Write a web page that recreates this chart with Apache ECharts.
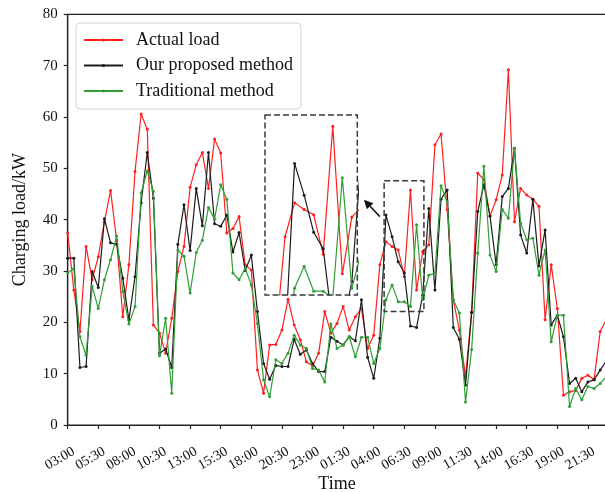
<!DOCTYPE html>
<html>
<head>
<meta charset="utf-8">
<script src="https://cdn.jsdelivr.net/npm/echarts@6/dist/echarts.min.js"></script>
<style>
  html, body { margin: 0; padding: 0; background: #fff; }
  #chart { width: 605px; height: 492px; }
</style>
</head>
<body>
<div id="chart"></div>
<script>
// Half-hourly time stamps along the horizontal axis
const times = [
  '03:00','03:30','04:00','04:30','05:00','05:30','06:00','06:30','07:00','07:30',
  '08:00','08:30','09:00','09:30','10:00','10:30','11:00','11:30','12:00','12:30',
  '13:00','13:30','14:00','14:30','15:00','15:30','16:00','16:30','17:00','17:30',
  '18:00','18:30','19:00','19:30','20:00','20:30','21:00','21:30','22:00','22:30',
  '23:00','23:30','00:00','00:30','01:00','01:30','02:00','02:30','03:00','03:30',
  '04:00','04:30','05:00','05:30','06:00','06:30','07:00','07:30','08:00','08:30',
  '09:00','09:30','10:00','10:30','11:00','11:30','12:00','12:30','13:00','13:30',
  '14:00','14:30','15:00','15:30','16:00','16:30','17:00','17:30','18:00','18:30',
  '19:00','19:30','20:00','20:30','21:00','21:30','22:00','22:30','23:00'
];

// Charging load (kW)
const actualLoad = [
  37.4, 26.3, 18.2, 34.8, 28.3, 32.8, 39.6, 45.7, 36.0, 21.1,
  31.2, 49.4, 60.6, 57.6, 19.5, 17.9, 14.0, 20.8, 29.9, 34.8,
  46.3, 50.7, 53.1, 46.1, 55.7, 53.0, 37.4, 38.3, 40.6, 31.2,
  30.2, 10.7, 6.2, 15.6, 15.7, 18.5, 24.5, 19.5, 16.6, 12.3,
  11.5, 14.0, 22.1, 17.9, 19.8, 23.1, 18.5, 21.1, 22.7, 14.9,
  17.5, 31.2, 35.7, 34.8, 34.1, 28.9, 45.8, 26.3, 33.8, 35.1,
  54.6, 56.7, 42.0, 24.4, 18.5, 9.4, 22.0, 49.1, 47.8, 40.7,
  43.9, 48.7, 69.2, 39.6, 46.1, 44.8, 44.0, 42.6, 20.5, 31.2,
  22.7, 5.8, 6.5, 6.7, 9.1, 9.7, 8.8, 18.2, 20.5
];
const proposedForecast = [
  32.5, 32.5, 11.2, 11.4, 29.9, 26.8, 40.2, 35.5, 35.2, 28.6,
  20.5, 28.9, 43.3, 53.1, 44.2, 14.0, 14.8, 11.2, 35.2, 42.9,
  34.0, 46.1, 38.8, 53.1, 39.2, 38.7, 40.9, 33.7, 37.5, 30.1,
  33.1, 22.1, 12.0, 8.9, 11.6, 11.4, 11.4, 16.7, 13.8, 14.6,
  12.0, 10.4, 10.4, 17.1, 16.3, 15.6, 17.2, 16.4, 24.4, 13.2,
  9.1, 16.9, 40.9, 36.7, 31.8, 29.6, 19.3, 19.0, 25.3, 42.2,
  26.3, 44.0, 45.8, 19.0, 16.7, 7.8, 21.9, 41.6, 46.8, 40.7,
  31.2, 44.5, 46.1, 53.9, 37.0, 33.5, 44.0, 31.0, 38.0, 19.5,
  21.4, 17.2, 8.1, 9.1, 6.5, 8.4, 8.8, 10.7, 12.5
];
const traditionalForecast = [
  29.6, 30.5, 17.2, 13.6, 27.0, 22.7, 28.3, 32.2, 36.8, 26.0,
  19.7, 23.1, 45.2, 49.5, 45.5, 13.5, 20.8, 6.2, 34.1, 32.9,
  25.7, 33.6, 36.0, 42.4, 40.1, 46.8, 44.0, 29.6, 28.3, 30.5,
  27.3, 19.8, 8.8, 5.5, 12.7, 12.0, 14.0, 17.5, 15.6, 14.9,
  11.0, 10.7, 8.4, 19.7, 14.9, 15.6, 17.2, 13.3, 17.1, 17.1,
  12.0, 14.9, 24.4, 27.3, 24.0, 24.0, 23.1, 39.0, 24.4, 29.2,
  29.6, 46.6, 43.5, 24.4, 21.8, 4.5, 14.7, 33.5, 50.4, 33.1,
  29.9, 42.0, 40.3, 53.9, 39.3, 36.1, 36.4, 29.2, 34.1, 16.2,
  21.4, 21.4, 3.6, 7.1, 4.9, 7.5, 7.1, 8.1, 9.4
];

const seriesNames = ['Actual load', 'Our proposed method', 'Traditional method'];
const seriesColors = ['#ff1f1f', '#1c1c1c', '#2f9e35'];
const seriesData = [actualLoad, proposedForecast, traditionalForecast];

// Window that the magnified view covers (sample index, kW)
const zoomWindow = { x: [51.7, 58.2], y: [22.1, 47.6] };
// Axis limits of the magnified view
const insetX = [48.9, 58.57];
const insetY = [23.5, 47.3];
// Pointer from the window to the magnified view (sample index, kW)
const pointer = { from: [51.0, 40.6], to: [48.4, 43.9] };

const FONT = '"Liberation Serif", "Times New Roman", serif';
const MAIN = { left: 67.7, top: 14.4, width: 538.6, height: 410.6 };
const INSET = { left: 265, top: 115, width: 92.3, height: 180 };

const chart = echarts.init(document.getElementById('chart'), null, { renderer: 'canvas' });

function lineSeries(k, axisIdx, data) {
  return {
    name: seriesNames[k],
    type: 'line',
    xAxisIndex: axisIdx,
    yAxisIndex: axisIdx,
    data: data,
    symbol: 'circle',
    symbolSize: 3,
    showSymbol: true,
    showAllSymbol: true,
    clip: true,
    color: seriesColors[k],
    lineStyle: { width: 1.2, color: seriesColors[k] },
    itemStyle: { color: seriesColors[k] },
    emphasis: { disabled: true },
    z: 2 + k
  };
}

const series = [];
seriesData.forEach((d, k) => series.push(lineSeries(k, 0, d)));
seriesData.forEach((d, k) => series.push(lineSeries(k, 1, d.map((v, i) => [i, v]))));

const axisColor = '#222';

chart.setOption({
  animation: false,
  textStyle: { fontFamily: FONT },
  legend: {
    orient: 'vertical',
    left: 76,
    top: 23,
    data: seriesNames,
    itemWidth: 39,
    itemHeight: 4,
    itemGap: 7.5,
    padding: [8, 8, 9, 7],
    backgroundColor: '#fff',
    borderColor: '#d4d4d4',
    borderWidth: 1,
    borderRadius: 4,
    textStyle: { fontSize: 18, color: '#111', fontFamily: FONT, padding: [0, 0, 0, 8] }
  },
  grid: [
    Object.assign({
      show: true, borderColor: axisColor, borderWidth: 1.2, backgroundColor: 'transparent',
      containLabel: false, outerBoundsMode: 'none'
    }, MAIN),
    Object.assign({ show: false, containLabel: false, outerBoundsMode: 'none' }, INSET)
  ],
  xAxis: [
    {
      type: 'category',
      gridIndex: 0,
      data: times,
      boundaryGap: false,
      axisLine: { show: true, lineStyle: { color: axisColor, width: 1.2 } },
      axisTick: { show: true, interval: 4, length: 4, lineStyle: { color: axisColor, width: 1.2 } },
      axisLabel: {
        interval: 4, rotate: 30, fontSize: 14, color: '#111', fontFamily: FONT,
        align: 'center', verticalAlign: 'middle', margin: 29, padding: [0, 18, 0, 0]
      },
      splitLine: { show: false },
      name: 'Time',
      nameLocation: 'middle',
      nameGap: 50,
      nameMoveOverlap: false,
      nameTextStyle: { fontSize: 18, color: '#111', fontFamily: FONT }
    },
    { type: 'value', gridIndex: 1, min: insetX[0], max: insetX[1], show: false }
  ],
  yAxis: [
    {
      type: 'value',
      gridIndex: 0,
      min: 0,
      max: 80,
      interval: 10,
      axisLine: { show: true, lineStyle: { color: axisColor, width: 1.2 } },
      axisTick: { show: true, length: 4, lineStyle: { color: axisColor, width: 1.2 } },
      axisLabel: { fontSize: 15, color: '#111', fontFamily: FONT, margin: 10 },
      splitLine: { show: false },
      name: 'Charging load/kW',
      nameLocation: 'middle',
      nameGap: 38,
      nameMoveOverlap: false,
      nameTextStyle: { fontSize: 18, color: '#111', fontFamily: FONT }
    },
    { type: 'value', gridIndex: 1, min: insetY[0], max: insetY[1], show: false }
  ],
  series: series
});

// Map (sample index, kW) to pixels on the main plot, allowing fractional indices
const a = chart.convertToPixel({ xAxisIndex: 0, yAxisIndex: 0 }, [0, 0]);
const b = chart.convertToPixel({ xAxisIndex: 0, yAxisIndex: 0 }, [10, 10]);
function toPx(p) {
  return [a[0] + (b[0] - a[0]) * p[0] / 10, a[1] + (b[1] - a[1]) * p[1] / 10];
}

const w0 = toPx([zoomWindow.x[0], zoomWindow.y[1]]);
const w1 = toPx([zoomWindow.x[1], zoomWindow.y[0]]);
const tail = toPx(pointer.from);
const head = toPx(pointer.to);
const dx = head[0] - tail[0], dy = head[1] - tail[1];
const len = Math.hypot(dx, dy), ux = dx / len, uy = dy / len;
const headLen = 9, headHalf = 4.5;
const base = [head[0] - ux * headLen, head[1] - uy * headLen];

const dashed = { stroke: '#3a3a3a', lineWidth: 1.5, lineDash: [6, 3], fill: null };

chart.setOption({
  graphic: [
    { type: 'rect', silent: true, z: 20,
      shape: { x: INSET.left, y: INSET.top, width: INSET.width, height: INSET.height },
      style: dashed },
    { type: 'rect', silent: true, z: 20,
      shape: { x: w0[0], y: w0[1], width: w1[0] - w0[0], height: w1[1] - w0[1] },
      style: dashed },
    { type: 'line', silent: true, z: 20,
      shape: { x1: tail[0], y1: tail[1], x2: base[0], y2: base[1] },
      style: { stroke: '#111', lineWidth: 1.5 } },
    { type: 'polygon', silent: true, z: 20,
      shape: { points: [
        head,
        [base[0] - uy * headHalf, base[1] + ux * headHalf],
        [base[0] + uy * headHalf, base[1] - ux * headHalf]
      ] },
      style: { fill: '#111' } }
  ]
});
</script>
</body>
</html>
